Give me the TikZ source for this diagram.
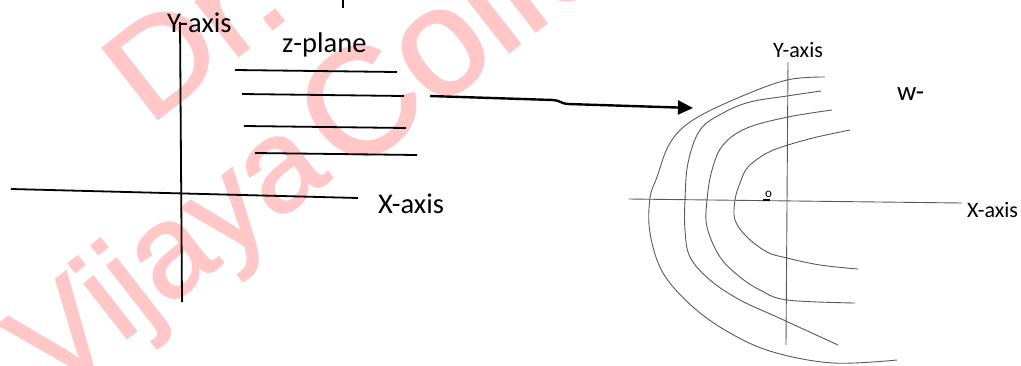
\documentclass[tikz,border=0pt]{standalone}
\usepackage{fontspec}
\setmainfont{Carlito}
\newfontfamily\wmfont[FakeBold=1.5]{Liberation Sans}
\usetikzlibrary{arrows.meta}
\begin{document}
\begin{tikzpicture}[x=1pt,y=-1pt,
  axisL/.style={line width=1.8pt, black},
  curveR/.style={line width=0.9pt, black!65},
  lbl/.style={inner sep=0pt, anchor=base west, font=\fontsize{28.5}{30}\selectfont},
  lbls/.style={inner sep=0pt, anchor=base west, font=\fontsize{22}{24}\selectfont},
  wm/.style={inner sep=0pt, anchor=base west, transform shape, text=red!22,
             font=\wmfont\fontsize{131}{140}\selectfont}]
\useasboundingbox (0,0) rectangle (1021,365);

% watermark, slanted words
\begin{scope}[shift={(148.7,126.2)}, rotate=38, xscale=1.1]
  \node[wm] (wm1) at (0,0) {Dr.};
\end{scope}
\begin{scope}[shift={(53,396)}, rotate=38]
  \node[wm] (wm2) at (0,0) {Vijaya};
\end{scope}
\begin{scope}[shift={(348,178)}, rotate=38, scale=1.16]
  \node[wm] (wm3) at (0,0) {College};
\end{scope}

% z-plane axes
\coordinate (zyT) at (180,22);
\coordinate (zyB) at (182,302);
\coordinate (zxL) at (11,189);
\coordinate (zxR) at (358,198);
\draw[axisL] (zyT) -- (zyB);
\draw[axisL] (zxL) -- (zxR);

% horizontal lines in the z-plane
\coordinate (h1a) at (235,70);  \coordinate (h1b) at (397,72);
\coordinate (h2a) at (242,94);  \coordinate (h2b) at (404,96);
\coordinate (h3a) at (244,126); \coordinate (h3b) at (406,128);
\coordinate (h4a) at (255,153); \coordinate (h4b) at (417,155);
\draw[axisL] (h1a) -- (h1b);
\draw[axisL] (h2a) -- (h2b);
\draw[axisL] (h3a) -- (h3b);
\draw[axisL] (h4a) -- (h4b);

% remnant stroke at the top edge
\coordinate (topA) at (343,0);
\coordinate (topB) at (343,8);
\draw[line width=2pt] (topA) -- (topB);

% labels, z-plane
\node[lbl] (zY) at (167,32) {Y-axis};
\node[lbl] (zP) at (282,52) {z-plane};
\node[lbl] (zX) at (378,213) {X-axis};

% mapping arrow
\coordinate (arS) at (430,96);
\coordinate (arE) at (693,108);
\draw[line width=2.4pt, -{Triangle[length=15pt,width=14pt]}]
  (arS) -- (553,100) to[out=0,in=180] (568,104) -- (arE);

% w-plane axes
\coordinate (wyT) at (788,62);
\coordinate (wyB) at (786,345);
\coordinate (wxL) at (629,199);
\coordinate (wxR) at (962,203);
\draw[curveR] (wyT) -- (wyB);
\draw[curveR] (wxL) -- (wxR);
\coordinate (oA) at (763,199.5);
\coordinate (oB) at (770,199.5);
\draw[line width=2pt] (oA) -- (oB);

% image curves in the w-plane
\draw[curveR] plot[smooth, tension=0.6] coordinates {(825,77) (787,80) (740,97) (693,120) (670,143) (657,177) (650,198) (650,233) (663,273) (693,307) (730,333) (773,352) (833,363) (897,360)};
\draw[curveR] plot[smooth, tension=0.6] coordinates {(821,91) (787,96) (750,102) (723,113) (700,130) (688,163) (685,200) (685,230) (690,257) (710,280) (740,300) (777,317) (838,345)};
\draw[curveR] plot[smooth, tension=0.6] coordinates {(832,110) (788,117) (747,128) (723,145) (712,170) (707,200) (707,227) (720,257) (740,277) (760,290) (787,300) (855,303)};
\draw[curveR] plot[smooth, tension=0.6] coordinates {(850,130) (817,137) (788,145) (767,153) (748,167) (740,183) (735,200) (735,220) (747,237) (767,252) (787,258) (820,265) (858,269)};

% labels, w-plane
\node[lbls] (wY) at (773,57) {Y-axis};
\node[lbls] (wX) at (967,217) {X-axis};
\node[inner sep=0pt, anchor=base west, font=\fontsize{27}{28}\selectfont] (wW) at (897,100) {w-};
\node[inner sep=0pt, anchor=base west, font=\fontsize{13}{14}\selectfont] (wO) at (765,197) {o};
\end{tikzpicture}
\end{document}
